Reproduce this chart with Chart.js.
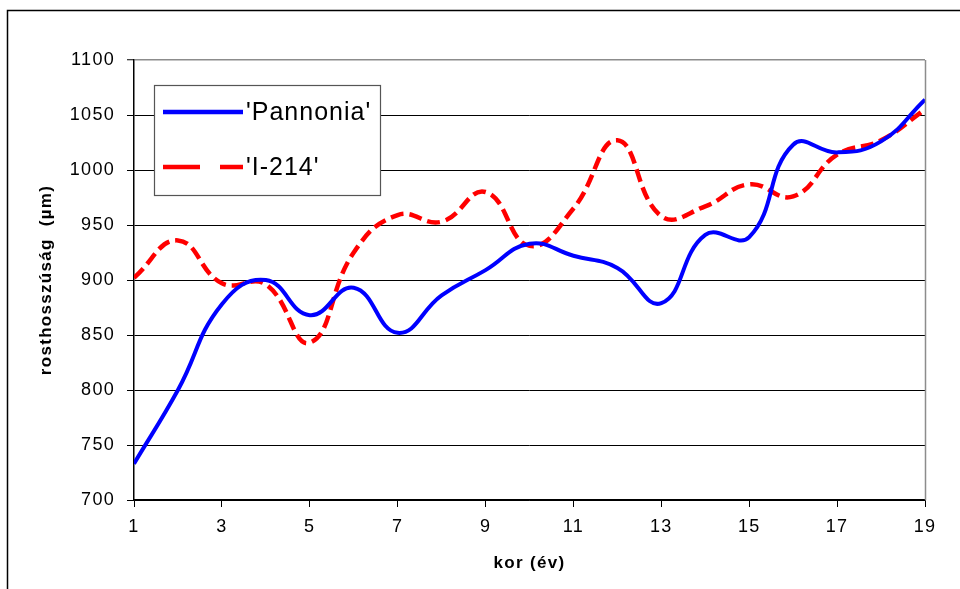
<!DOCTYPE html>
<html>
<head>
<meta charset="utf-8">
<script src="https://cdn.jsdelivr.net/npm/chart.js@4/dist/chart.umd.min.js"></script>
<style>
  html, body { margin: 0; padding: 0; background: #fff; }
  canvas { display: block; }
</style>
</head>
<body>
<canvas id="c" width="960" height="589"></canvas>
<script>
// ---- data ----
const ages = [1, 2, 3, 4, 5, 6, 7, 8, 9, 10, 11, 12, 13, 14, 15, 16, 17, 18, 19];
const pannonia = [733, 800, 878, 900, 868, 893, 852, 886, 909, 933, 922, 911, 879, 941, 939, 1023, 1016, 1026, 1064];
const i214 = [902, 936, 897, 896, 843, 925, 959, 953, 980, 931, 965, 1027, 958, 967, 987, 976, 1014, 1027, 1055];
const seriesNames = ["'Pannonia'", "'I-214'"];
const xTitle = 'kor (év)';
const yTitle = 'rosthosszúság  (µm)';
const yMin = 700, yMax = 1100, yStep = 50;
const xMin = 1, xMax = 19, xStep = 2;

const toPoints = (vals) => ages.map((a, i) => ({ x: a, y: vals[i] }));

const FONT = "'Liberation Sans', Arial, sans-serif";

const spacingPlugin = {
  id: 'spacing',
  beforeLayout(chart) { chart.ctx.letterSpacing = '1.3px'; },
  beforeDraw(chart) { chart.ctx.letterSpacing = '1.3px'; }
};

const decorPlugin = {
  id: 'decor',
  afterDraw(chart) {
    const ctx = chart.ctx;
    const a = chart.chartArea;
    ctx.save();
    // plot area right border (gray)
    ctx.strokeStyle = '#8c8c8c';
    ctx.lineWidth = 1.5;
    ctx.beginPath();
    ctx.moveTo(Math.round(a.right) + 0.5, a.top);
    ctx.lineTo(Math.round(a.right) + 0.5, a.bottom);
    ctx.stroke();
    // outer frame
    ctx.strokeStyle = '#000';
    ctx.lineWidth = 1.5;
    ctx.beginPath();
    ctx.moveTo(7.5, 589);
    ctx.lineTo(7.5, 10.5);
    ctx.lineTo(960, 10.5);
    ctx.stroke();
    // legend
    const lx = 154.5, ly = 85.5, lw = 226, lh = 110;
    ctx.fillStyle = '#fff';
    ctx.fillRect(lx, ly, lw, lh);
    ctx.strokeStyle = '#555';
    ctx.lineWidth = 1.2;
    ctx.strokeRect(lx, ly, lw, lh);
    const ds = chart.data.datasets;
    const rows = [112, 167];
    ds.forEach((d, i) => {
      const y = rows[i];
      ctx.strokeStyle = d.borderColor;
      ctx.lineWidth = 4.5;
      ctx.lineCap = 'butt';
      ctx.beginPath();
      if (d.borderDash && d.borderDash.length) {
        ctx.moveTo(163, y); ctx.lineTo(200, y);
        ctx.moveTo(220, y); ctx.lineTo(243, y);
      } else {
        ctx.moveTo(163, y); ctx.lineTo(243, y);
      }
      ctx.stroke();
      ctx.fillStyle = '#000';
      ctx.letterSpacing = '1px';
      ctx.font = '25px ' + FONT;
      ctx.textAlign = 'left';
      ctx.textBaseline = 'middle';
      ctx.fillText(d.label, 246, y + 1);
    });
    ctx.restore();
  }
};

new Chart(document.getElementById('c'), {
  type: 'line',
  data: {
    datasets: [
      {
        label: seriesNames[0],
        data: toPoints(pannonia),
        borderColor: '#0000ff',
        borderWidth: 4,
        pointRadius: 0,
        tension: 0.45,
        fill: false
      },
      {
        label: seriesNames[1],
        data: toPoints(i214),
        borderColor: '#ff0000',
        borderWidth: 4.5,
        borderDash: [13, 6],
        pointRadius: 0,
        tension: 0.45,
        fill: false
      }
    ]
  },
  options: {
    responsive: false,
    animation: false,
    devicePixelRatio: 1,
    layout: { padding: { left: 0, right: 35, top: 60, bottom: 0 } },
    plugins: {
      legend: { display: false },
      tooltip: { enabled: false }
    },
    scales: {
      x: {
        type: 'linear',
        min: xMin, max: xMax,
        afterFit(scale) { scale.height = 89; },
        ticks: {
          stepSize: xStep,
          color: '#000',
          font: { family: FONT, size: 18 },
          padding: 9,
          maxRotation: 0,
          callback: (v) => String(v)
        },
        grid: {
          drawOnChartArea: false,
          drawTicks: true,
          tickLength: 7,
          tickColor: '#000',
          color: '#000'
        },
        border: { display: true, color: '#000', width: 1.5 },
        title: {
          display: true,
          text: xTitle,
          color: '#000',
          font: { family: FONT, size: 17, weight: 'bold' },
          padding: { top: 0, bottom: 15 }
        }
      },
      y: {
        type: 'linear',
        min: yMin, max: yMax,
        afterFit(scale) { scale.width = 134; },
        ticks: {
          stepSize: yStep,
          color: '#000',
          font: { family: FONT, size: 18 },
          padding: 12,
          callback: (v) => String(v)
        },
        grid: {
          color: (c) => (c.tick && c.tick.value === yMax) ? '#8c8c8c' : '#000',
          lineWidth: (c) => (c.tick && c.tick.value === yMax) ? 1.5 : 1,
          tickLength: 7,
          tickColor: '#000',
          tickWidth: 1
        },
        border: { display: true, color: '#000', width: 1.5 },
        title: {
          display: true,
          text: yTitle,
          color: '#000',
          font: { family: FONT, size: 17, weight: 'bold' },
          padding: { top: 36, bottom: 0 }
        }
      }
    }
  },
  plugins: [spacingPlugin, decorPlugin]
});
</script>
</body>
</html>
